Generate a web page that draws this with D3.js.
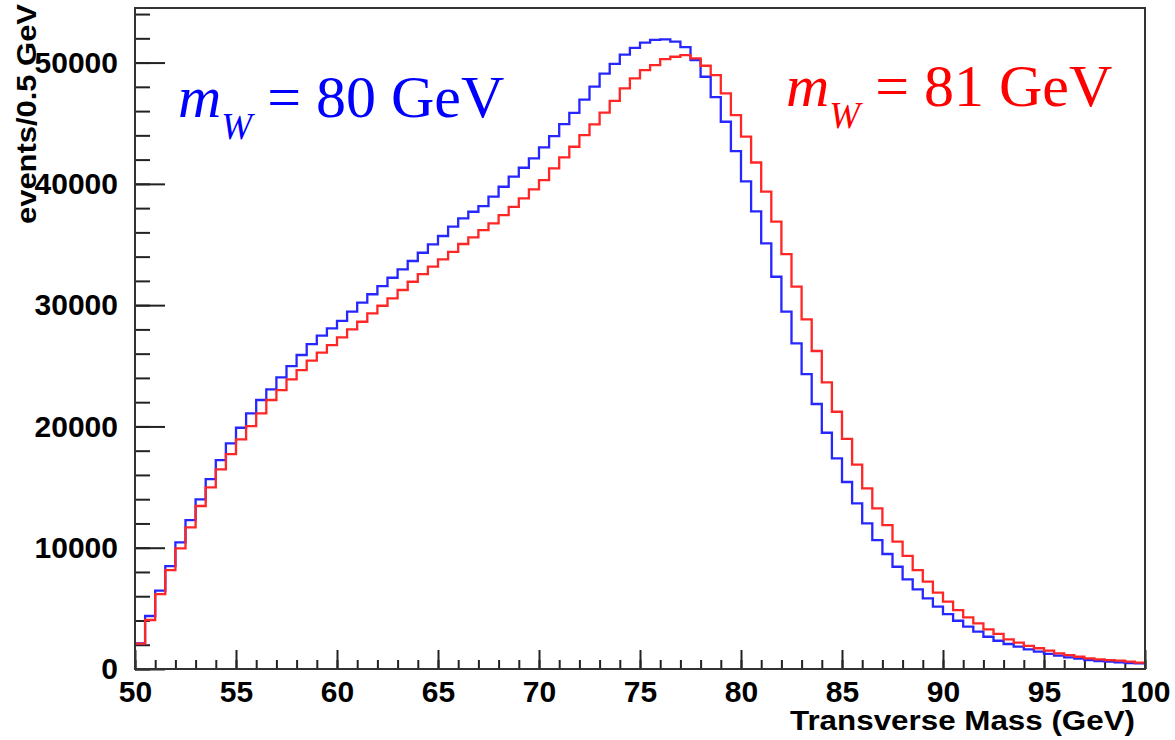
<!DOCTYPE html>
<html><head><meta charset="utf-8">
<script src="https://cdn.jsdelivr.net/npm/d3@7"></script>
<style>body{margin:0;background:#fff}svg{display:block}</style>
</head><body><svg id="c" width="1175" height="740"></svg>
<script>
// ---- data (events per 0.5 GeV bin, 50..100 GeV) ----
const binStart = 50;
const binWidth = 0.5;
const eventsW80 = [
 2120,4370,6460,8490,10440,12280,13990,15660,17230,18600,
 19890,21070,22180,23060,24050,24980,25890,26790,27480,28090,
 28710,29460,30200,30900,31570,32260,32950,33640,34320,35010,
 35700,36470,37160,37700,38170,38940,39760,40590,41330,42100,
 43010,43940,44930,45860,46950,48010,49090,49890,50650,51210,
 51650,51880,51920,51720,51280,50210,48830,47150,45120,42700,
 40200,37730,35090,32340,29460,26850,24320,21850,19480,17370,
 15420,13660,12010,10630,9480,8430,7390,6570,5830,5140,
 4530,3980,3490,3080,2660,2330,2060,1840,1620,1430,
 1240,1100,960,850,740,660,600,550,490,470];
const eventsW81 = [
 2100,4040,6180,8160,9950,11680,13440,14980,16460,17720,
 18940,20030,21080,22180,23000,23880,24650,25420,26080,26710,
 27340,28000,28630,29320,29950,30560,31250,31930,32560,33170,
 33780,34400,35040,35590,36190,36740,37430,38110,38800,39550,
 40310,41280,42180,43060,44020,44900,45880,46840,47870,48700,
 49380,49790,50290,50480,50620,50340,49740,48970,47460,45670,
 43890,41760,39360,36880,34210,31520,28830,26220,23640,21210,
 18970,16850,14900,13250,11870,10500,9320,8160,7200,6290,
 5550,4860,4260,3770,3270,2890,2450,2170,1900,1710,
 1510,1290,1150,1010,880,800,740,690,600,520];
const xMajorTicks = [50,55,60,65,70,75,80,85,90,95,100];
const xMinorTicks = d3.range(50,101,1);
const yMajorTicks = [0,10000,20000,30000,40000,50000];
const yMinorTicks = d3.range(0,54001,2000);
const xTitle = "Transverse Mass (GeV)";
const yTitle = "events/0.5 GeV";
const labels = [
  {m:"m", sub:"W", rest:" = 80 GeV", color:"#0000ff"},
  {m:"m", sub:"W", rest:" = 81 GeV", color:"#ff0000"}
];

// ---- layout ----
const L=135, R=1145, T=8, B=669;
const svg = d3.select("#c");
svg.append("rect").attr("width",1175).attr("height",740).attr("fill","#fff");
const x = d3.scaleLinear().domain([50,100]).range([L,R]);
const y = d3.scaleLinear().domain([0,54500]).range([B,T]);

const tickFont = "'Liberation Sans', Arial, Helvetica, sans-serif";

// minor ticks
svg.append("g").attr("transform",`translate(0,${B})`)
  .call(d3.axisBottom(x).tickValues(xMinorTicks).tickSize(-9).tickFormat(""))
  .call(g=>g.select(".domain").remove())
  .call(g=>g.selectAll("line").attr("stroke","#222").attr("stroke-width",2));
svg.append("g").attr("transform",`translate(${L},0)`)
  .call(d3.axisLeft(y).tickValues(yMinorTicks).tickSize(-15).tickFormat(""))
  .call(g=>g.select(".domain").remove())
  .call(g=>g.selectAll("line").attr("stroke","#222").attr("stroke-width",2));

// major ticks + labels
svg.append("g").attr("transform",`translate(0,${B})`)
  .call(d3.axisBottom(x).tickValues(xMajorTicks).tickSize(-19).tickPadding(12).tickFormat(d3.format("d")))
  .call(g=>g.select(".domain").remove())
  .call(g=>g.selectAll("line").attr("stroke","#222").attr("stroke-width",2))
  .call(g=>g.selectAll("text").attr("fill","#000").style("font-family",tickFont)
      .style("font-weight","bold").style("font-size","30px"));
svg.append("g").attr("transform",`translate(${L},0)`)
  .call(d3.axisLeft(y).tickValues(yMajorTicks).tickSize(-30).tickPadding(17).tickFormat(d3.format("d")))
  .call(g=>g.select(".domain").remove())
  .call(g=>g.selectAll("line").attr("stroke","#222").attr("stroke-width",2))
  .call(g=>g.selectAll("text").attr("fill","#000").style("font-family",tickFont)
      .style("font-weight","bold").style("font-size","30px"));

// histograms
function stepData(arr){
  const pts = arr.map((v,i)=>[binStart+i*binWidth, v]);
  pts.push([binStart+arr.length*binWidth, arr[arr.length-1]]);
  return pts;
}
const line = d3.line().x(d=>x(d[0])).y(d=>y(d[1])).curve(d3.curveStepAfter);
svg.append("path").datum(stepData(eventsW80)).attr("d",line)
  .attr("fill","none").attr("stroke","#2626ff").attr("stroke-width",2.3);
svg.append("path").datum(stepData(eventsW81)).attr("d",line)
  .attr("fill","none").attr("stroke","#ff2626").attr("stroke-width",2.3);

// frame
svg.append("rect").attr("x",L).attr("y",T).attr("width",R-L).attr("height",B-T)
  .attr("fill","none").attr("stroke","#333").attr("stroke-width",2);

// axis titles
svg.append("text").attr("x",1135).attr("y",730).attr("text-anchor","end")
  .style("font-family",tickFont).style("font-weight","bold").style("font-size","27px")
  .attr("textLength",345).attr("lengthAdjust","spacingAndGlyphs").text(xTitle);
svg.append("text").attr("transform","translate(36,4) rotate(-90)").attr("text-anchor","end")
  .style("font-family",tickFont).style("font-weight","bold").style("font-size","27px")
  .attr("textLength",220).attr("lengthAdjust","spacingAndGlyphs").text(yTitle);

// annotations
const serif = "'Liberation Serif','DejaVu Serif',serif";
const pos = [{x:178,y:117},{x:786,y:106}];
labels.forEach((d,i)=>{
  const t = svg.append("text").attr("x",pos[i].x).attr("y",pos[i].y)
    .attr("fill",d.color).style("font-family",serif);
  t.append("tspan").style("font-style","italic").style("font-size","60px").text(d.m);
  t.append("tspan").style("font-style","italic").style("font-size","37px").attr("dy",22).text(d.sub);
  t.append("tspan").style("font-size","60px").attr("dy",-22).text(d.rest);
});
</script>
</body></html>
